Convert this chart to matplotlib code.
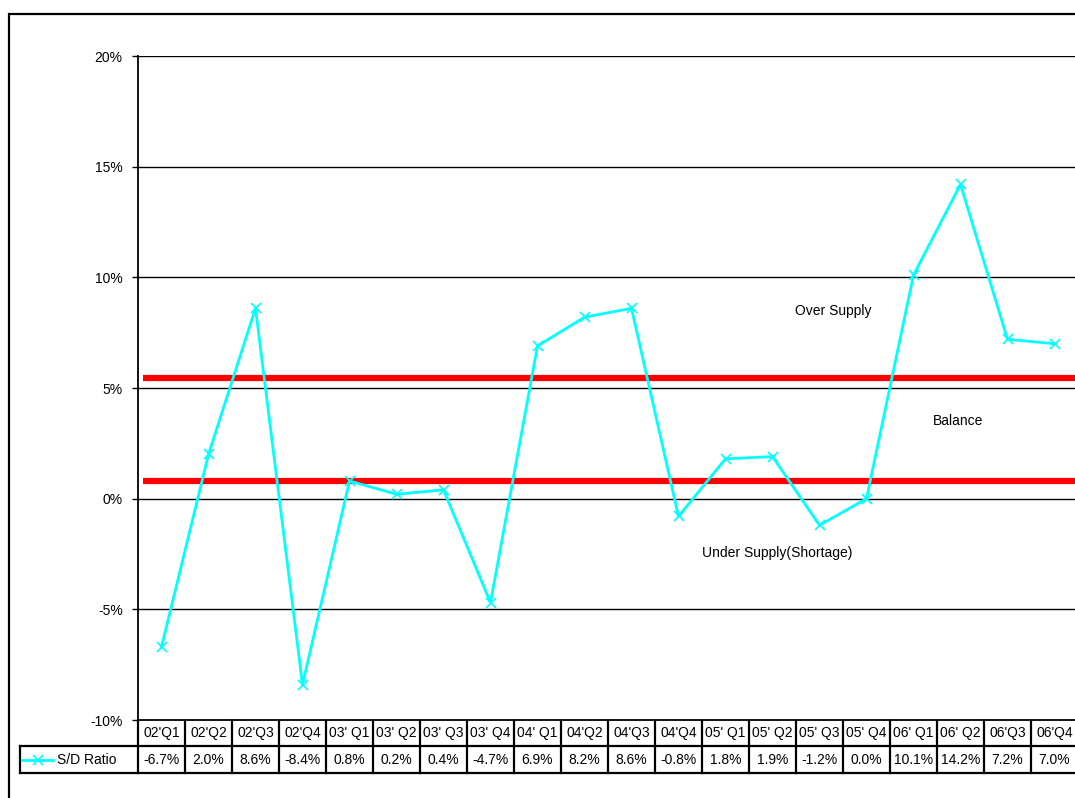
import matplotlib
matplotlib.use("Agg")
import matplotlib.pyplot as plt
from matplotlib.lines import Line2D
from matplotlib.patches import Rectangle
from matplotlib.transforms import blended_transform_factory

plt.rcParams['font.family'] = ['Liberation Sans', 'DejaVu Sans']

quarters = ["02'Q1", "02'Q2", "02'Q3", "02'Q4", "03' Q1", "03' Q2", "03' Q3", "03' Q4",
            "04' Q1", "04'Q2", "04'Q3", "04'Q4", "05' Q1", "05' Q2", "05' Q3", "05' Q4",
            "06' Q1", "06' Q2", "06'Q3", "06'Q4"]
sd_ratio = [-6.7, 2.0, 8.6, -8.4, 0.8, 0.2, 0.4, -4.7, 6.9, 8.2,
            8.6, -0.8, 1.8, 1.9, -1.2, 0.0, 10.1, 14.2, 7.2, 7.0]
band_upper = 5.45
band_lower = 0.8
y_ticks = [-10, -5, 0, 5, 10, 15, 20]
zone_labels = [("Over Supply", 14.3, 8.5), ("Balance", 16.95, 3.5),
               ("Under Supply(Shortage)", 13.1, -2.45)]

W, H = 1075, 798
fig = plt.figure(figsize=(W / 100, H / 100), dpi=100)

def fx(px):
    return px / W

def fy(py):
    return 1 - py / H

# outer chart frame
fig.patches.append(Rectangle((fx(9), fy(830)), fx(1100) - fx(9), fy(14) - fy(830),
                             transform=fig.transFigure, fill=False,
                             edgecolor='black', linewidth=1.6, clip_on=False))

ax_left, ax_right, ax_top, ax_bottom = 138, 1078, 56, 720
ax = fig.add_axes([fx(ax_left), fy(ax_bottom), fx(ax_right) - fx(ax_left),
                   fy(ax_top) - fy(ax_bottom)])
n = len(quarters)
x = list(range(n))
ax.set_xlim(-0.5, n - 0.5)
ax.set_ylim(-10, 20)
ax.set_yticks(y_ticks)
ax.set_yticklabels([f"{t}%" for t in y_ticks], fontsize=10)
ax.tick_params(axis='y', length=4, width=1, pad=7, direction='out')
ax.set_xticks([])
for s in ['top', 'right']:
    ax.spines[s].set_visible(False)
ax.spines['left'].set_linewidth(1.3)
ax.spines['bottom'].set_linewidth(1.3)
for t in y_ticks[1:]:
    ax.axhline(t, color='black', linewidth=1.0, zorder=1)

ax.plot([0.1 - 0.5, n], [band_upper, band_upper], color='#ff0000', lw=4.5,
        solid_capstyle='butt', zorder=2, clip_on=False)
ax.plot([0.1 - 0.5, n], [band_lower, band_lower], color='#ff0000', lw=4.5,
        solid_capstyle='butt', zorder=2, clip_on=False)

ax.plot(x, sd_ratio, color='#00ffff', lw=2.0, marker='x', markersize=7,
        markeredgewidth=1.2, zorder=3, clip_on=False)

for label, lx, ly in zone_labels:
    ax.text(lx, ly, label, fontsize=10, ha='center', va='center', zorder=4)

# data table under the plot
tr = blended_transform_factory(ax.transData, fig.transFigure)
row1_top, row1_bot, row2_bot = 721, 746, 773
lw_tab = 1.6
for i in range(n + 1):
    xb = i - 0.5
    fig.lines.append(Line2D([xb, xb], [fy(row1_top), fy(row2_bot)], transform=tr,
                            color='black', lw=lw_tab))
for yy in (row1_bot, row2_bot):
    fig.lines.append(Line2D([fx(20), fx(1100)], [fy(yy), fy(yy)],
                            transform=fig.transFigure, color='black', lw=lw_tab))
fig.lines.append(Line2D([fx(20), fx(20)], [fy(row1_bot), fy(row2_bot)],
                        transform=fig.transFigure, color='black', lw=lw_tab))
for i, (q, v) in enumerate(zip(quarters, sd_ratio)):
    fig.text(i, fy((row1_top + row1_bot) / 2), q, transform=tr, fontsize=10,
             ha='center', va='center')
    fig.text(i, fy((row1_bot + row2_bot) / 2), f"{v:.1f}%", transform=tr, fontsize=10,
             ha='center', va='center')

# legend key in the first table cell
ky = fy((row1_bot + row2_bot) / 2)
fig.lines.append(Line2D([fx(22), fx(53)], [ky, ky], transform=fig.transFigure,
                        color='#00ffff', lw=2.0))
fig.lines.append(Line2D([fx(37.5)], [ky], transform=fig.transFigure, color='#00ffff',
                        marker='x', markersize=7, markeredgewidth=1.2, lw=0))
fig.text(fx(57), ky, "S/D Ratio", fontsize=10, ha='left', va='center')

fig.savefig("out.png", dpi=100)
